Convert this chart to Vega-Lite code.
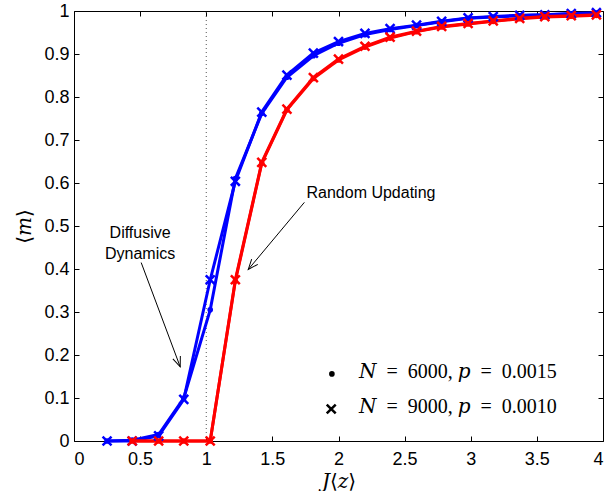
{
  "$schema": "https://vega.github.io/schema/vega-lite/v6.json",
  "width": 529,
  "height": 430,
  "autosize": {"type": "none"},
  "padding": {"left": 74, "top": 11, "right": 10, "bottom": 50},
  "background": "white",
  "config": {
    "view": {"stroke": "black", "strokeWidth": 1},
    "axis": {
      "domainColor": "black",
      "tickColor": "black",
      "tickSize": -5,
      "labelFont": "Liberation Sans",
      "labelFontSize": 18,
      "labelColor": "black",
      "titleColor": "black",
      "titleFont": "Liberation Serif, DejaVu Serif",
      "titleFontSize": 20,
      "titleFontWeight": "normal",
      "grid": false
    }
  },
  "datasets": {
    "curves": [
      {"J": 0.25, "m": 0, "dyn": "diff", "N": "9000"},
      {"J": 0.44, "m": 0, "dyn": "diff", "N": "9000"},
      {"J": 0.64, "m": 0.012, "dyn": "diff", "N": "9000"},
      {"J": 0.83, "m": 0.097, "dyn": "diff", "N": "9000"},
      {"J": 1.03, "m": 0.375, "dyn": "diff", "N": "9000"},
      {"J": 1.22, "m": 0.604, "dyn": "diff", "N": "9000"},
      {"J": 1.42, "m": 0.765, "dyn": "diff", "N": "9000"},
      {"J": 1.61, "m": 0.851, "dyn": "diff", "N": "9000"},
      {"J": 1.81, "m": 0.902, "dyn": "diff", "N": "9000"},
      {"J": 2.0, "m": 0.929, "dyn": "diff", "N": "9000"},
      {"J": 2.2, "m": 0.948, "dyn": "diff", "N": "9000"},
      {"J": 2.39, "m": 0.959, "dyn": "diff", "N": "9000"},
      {"J": 2.59, "m": 0.967, "dyn": "diff", "N": "9000"},
      {"J": 2.78, "m": 0.976, "dyn": "diff", "N": "9000"},
      {"J": 2.98, "m": 0.984, "dyn": "diff", "N": "9000"},
      {"J": 3.17, "m": 0.987, "dyn": "diff", "N": "9000"},
      {"J": 3.37, "m": 0.99, "dyn": "diff", "N": "9000"},
      {"J": 3.56, "m": 0.991, "dyn": "diff", "N": "9000"},
      {"J": 3.76, "m": 0.994, "dyn": "diff", "N": "9000"},
      {"J": 3.95, "m": 0.996, "dyn": "diff", "N": "9000"},
      {"J": 0.25, "m": 0, "dyn": "diff", "N": "6000"},
      {"J": 0.44, "m": 0.002, "dyn": "diff", "N": "6000"},
      {"J": 0.64, "m": 0.015, "dyn": "diff", "N": "6000"},
      {"J": 0.83, "m": 0.1, "dyn": "diff", "N": "6000"},
      {"J": 1.03, "m": 0.305, "dyn": "diff", "N": "6000"},
      {"J": 1.22, "m": 0.61, "dyn": "diff", "N": "6000"},
      {"J": 1.42, "m": 0.762, "dyn": "diff", "N": "6000"},
      {"J": 1.61, "m": 0.846, "dyn": "diff", "N": "6000"},
      {"J": 1.81, "m": 0.896, "dyn": "diff", "N": "6000"},
      {"J": 2.0, "m": 0.925, "dyn": "diff", "N": "6000"},
      {"J": 2.2, "m": 0.945, "dyn": "diff", "N": "6000"},
      {"J": 2.39, "m": 0.957, "dyn": "diff", "N": "6000"},
      {"J": 2.59, "m": 0.966, "dyn": "diff", "N": "6000"},
      {"J": 2.78, "m": 0.975, "dyn": "diff", "N": "6000"},
      {"J": 2.98, "m": 0.983, "dyn": "diff", "N": "6000"},
      {"J": 3.17, "m": 0.986, "dyn": "diff", "N": "6000"},
      {"J": 3.37, "m": 0.989, "dyn": "diff", "N": "6000"},
      {"J": 3.56, "m": 0.991, "dyn": "diff", "N": "6000"},
      {"J": 3.76, "m": 0.993, "dyn": "diff", "N": "6000"},
      {"J": 3.95, "m": 0.995, "dyn": "diff", "N": "6000"},
      {"J": 0.44, "m": 0, "dyn": "rand", "N": "9000"},
      {"J": 0.64, "m": 0, "dyn": "rand", "N": "9000"},
      {"J": 0.83, "m": 0, "dyn": "rand", "N": "9000"},
      {"J": 1.03, "m": 0, "dyn": "rand", "N": "9000"},
      {"J": 1.22, "m": 0.375, "dyn": "rand", "N": "9000"},
      {"J": 1.42, "m": 0.648, "dyn": "rand", "N": "9000"},
      {"J": 1.61, "m": 0.772, "dyn": "rand", "N": "9000"},
      {"J": 1.81, "m": 0.845, "dyn": "rand", "N": "9000"},
      {"J": 2.0, "m": 0.888, "dyn": "rand", "N": "9000"},
      {"J": 2.2, "m": 0.918, "dyn": "rand", "N": "9000"},
      {"J": 2.39, "m": 0.939, "dyn": "rand", "N": "9000"},
      {"J": 2.59, "m": 0.953, "dyn": "rand", "N": "9000"},
      {"J": 2.78, "m": 0.964, "dyn": "rand", "N": "9000"},
      {"J": 2.98, "m": 0.971, "dyn": "rand", "N": "9000"},
      {"J": 3.17, "m": 0.977, "dyn": "rand", "N": "9000"},
      {"J": 3.37, "m": 0.983, "dyn": "rand", "N": "9000"},
      {"J": 3.56, "m": 0.987, "dyn": "rand", "N": "9000"},
      {"J": 3.76, "m": 0.989, "dyn": "rand", "N": "9000"},
      {"J": 3.95, "m": 0.991, "dyn": "rand", "N": "9000"},
      {"J": 0.44, "m": 0, "dyn": "rand", "N": "6000"},
      {"J": 0.64, "m": 0, "dyn": "rand", "N": "6000"},
      {"J": 0.83, "m": 0, "dyn": "rand", "N": "6000"},
      {"J": 1.03, "m": 0, "dyn": "rand", "N": "6000"},
      {"J": 1.22, "m": 0.372, "dyn": "rand", "N": "6000"},
      {"J": 1.42, "m": 0.646, "dyn": "rand", "N": "6000"},
      {"J": 1.61, "m": 0.77, "dyn": "rand", "N": "6000"},
      {"J": 1.81, "m": 0.843, "dyn": "rand", "N": "6000"},
      {"J": 2.0, "m": 0.886, "dyn": "rand", "N": "6000"},
      {"J": 2.2, "m": 0.916, "dyn": "rand", "N": "6000"},
      {"J": 2.39, "m": 0.937, "dyn": "rand", "N": "6000"},
      {"J": 2.59, "m": 0.952, "dyn": "rand", "N": "6000"},
      {"J": 2.78, "m": 0.963, "dyn": "rand", "N": "6000"},
      {"J": 2.98, "m": 0.97, "dyn": "rand", "N": "6000"},
      {"J": 3.17, "m": 0.976, "dyn": "rand", "N": "6000"},
      {"J": 3.37, "m": 0.982, "dyn": "rand", "N": "6000"},
      {"J": 3.56, "m": 0.986, "dyn": "rand", "N": "6000"},
      {"J": 3.76, "m": 0.988, "dyn": "rand", "N": "6000"},
      {"J": 3.95, "m": 0.99, "dyn": "rand", "N": "6000"}
    ],
    "legendRows": [
      {"J": 1.95, "m": 0.156, "N": "6000", "tx": 2.155, "ty": 0.1465, "label": "𝑁\u2002=\u20026000, 𝑝\u2002=\u20020.0015"},
      {"J": 1.945, "m": 0.0744, "N": "9000", "tx": 2.155, "ty": 0.065, "label": "𝑁\u2002=\u20029000, 𝑝\u2002=\u20020.0010"}
    ]
  },
  "layer": [
    {
      "data": {"values": [{"J": 1, "lo": 0, "hi": 1}]},
      "mark": {"type": "rule", "color": "#555555", "strokeDash": [1, 3], "strokeWidth": 1},
      "encoding": {
        "x": {"field": "J", "type": "quantitative", "scale": {"domain": [0, 4], "nice": false, "zero": false},
          "axis": {"orient": "top", "labels": false, "title": null, "domain": false, "values": [0, 0.5, 1, 1.5, 2, 2.5, 3, 3.5, 4]}},
        "y": {"field": "lo", "type": "quantitative", "scale": {"domain": [0, 1], "nice": false},
          "axis": {"orient": "right", "labels": false, "title": null, "domain": false, "values": [0, 0.1, 0.2, 0.3, 0.4, 0.5, 0.6, 0.7, 0.8, 0.9, 1]}},
        "y2": {"field": "hi"}
      }
    },
    {
      "data": {"name": "curves"},
      "mark": {"type": "line", "strokeWidth": 3},
      "encoding": {
        "x": {"field": "J", "type": "quantitative",
          "axis": {"orient": "bottom", "title": "𝐽⟨𝑧⟩", "values": [0, 0.5, 1, 1.5, 2, 2.5, 3, 3.5, 4], "format": "~g", "labelPadding": 14, "titlePadding": 3, "domain": false}},
        "y": {"field": "m", "type": "quantitative",
          "axis": {"orient": "left", "title": "⟨𝑚⟩", "values": [0, 0.1, 0.2, 0.3, 0.4, 0.5, 0.6, 0.7, 0.8, 0.9, 1], "format": "~g", "labelPadding": 10, "titlePadding": 9, "domain": false}},
        "color": {"field": "dyn", "type": "nominal", "scale": {"domain": ["diff", "rand"], "range": ["#0000ff", "#ff0000"]}, "legend": null},
        "detail": [{"field": "dyn"}, {"field": "N"}]
      }
    },
    {
      "data": {"name": "curves"},
      "mark": {"type": "point", "filled": true, "strokeWidth": 2.5, "opacity": 1},
      "encoding": {
        "x": {"field": "J", "type": "quantitative", "axis": null},
        "y": {"field": "m", "type": "quantitative", "axis": null},
        "color": {"field": "dyn", "type": "nominal", "legend": null},
        "stroke": {"field": "dyn", "type": "nominal", "scale": {"domain": ["diff", "rand"], "range": ["#0000ff", "#ff0000"]}, "legend": null},
        "shape": {"field": "N", "type": "nominal", "scale": {"domain": ["6000", "9000"], "range": ["circle", "M-1,-1L1,1M-1,1L1,-1"]}, "legend": null},
        "size": {"field": "N", "type": "nominal", "scale": {"domain": ["6000", "9000"], "range": [10, 80]}, "legend": null}
      }
    },
    {
      "data": {"name": "legendRows"},
      "mark": {"type": "point", "filled": true, "strokeWidth": 2.5, "opacity": 1, "fill": "black", "stroke": "black"},
      "encoding": {
        "x": {"field": "J", "type": "quantitative", "axis": null},
        "y": {"field": "m", "type": "quantitative", "axis": null},
        "shape": {"field": "N", "type": "nominal", "legend": null},
        "size": {"field": "N", "type": "nominal", "legend": null}
      }
    },
    {
      "data": {"name": "legendRows"},
      "mark": {"type": "text", "align": "left", "baseline": "alphabetic", "font": "Liberation Serif, DejaVu Serif", "fontSize": 20, "color": "black"},
      "encoding": {
        "x": {"field": "tx", "type": "quantitative", "axis": null},
        "y": {"field": "ty", "type": "quantitative", "axis": null},
        "text": {"field": "label"}
      }
    },
    {
      "data": {"values": [{"J": 1.758, "m": 0.564, "label": "Random Updating"}]},
      "mark": {"type": "text", "align": "left", "baseline": "alphabetic", "font": "Liberation Sans", "fontSize": 16, "color": "black"},
      "encoding": {
        "x": {"field": "J", "type": "quantitative", "axis": null},
        "y": {"field": "m", "type": "quantitative", "axis": null},
        "text": {"field": "label"}
      }
    },
    {
      "data": {"values": [{"J": 0.5, "m": 0.473, "label": "Diffusive"}, {"J": 0.5, "m": 0.424, "label": "Dynamics"}]},
      "mark": {"type": "text", "align": "center", "baseline": "alphabetic", "font": "Liberation Sans", "fontSize": 16, "color": "black"},
      "encoding": {
        "x": {"field": "J", "type": "quantitative", "axis": null},
        "y": {"field": "m", "type": "quantitative", "axis": null},
        "text": {"field": "label"}
      }
    },
    {
      "data": {"values": [{"J": 1.742, "m": 0.555, "J2": 1.318, "m2": 0.399}, {"J": 0.508, "m": 0.415, "J2": 0.803, "m2": 0.1725}]},
      "mark": {"type": "rule", "color": "black", "strokeWidth": 1},
      "encoding": {
        "x": {"field": "J", "type": "quantitative", "axis": null},
        "y": {"field": "m", "type": "quantitative", "axis": null},
        "x2": {"field": "J2"},
        "y2": {"field": "m2"}
      }
    },
    {
      "data": {"values": [{"J": 1.318, "m": 0.399}]},
      "mark": {"type": "point", "shape": "M-0.4,1L0,0L0.4,1", "angle": 220, "size": 400, "filled": false, "stroke": "black", "strokeWidth": 1, "opacity": 1},
      "encoding": {
        "x": {"field": "J", "type": "quantitative", "axis": null},
        "y": {"field": "m", "type": "quantitative", "axis": null}
      }
    },
    {
      "data": {"values": [{"J": 0.803, "m": 0.1725}]},
      "mark": {"type": "point", "shape": "M-0.4,1L0,0L0.4,1", "angle": 159, "size": 400, "filled": false, "stroke": "black", "strokeWidth": 1, "opacity": 1},
      "encoding": {
        "x": {"field": "J", "type": "quantitative", "axis": null},
        "y": {"field": "m", "type": "quantitative", "axis": null}
      }
    }
  ],
  "resolve": {"axis": {"x": "independent", "y": "independent"}}
}
